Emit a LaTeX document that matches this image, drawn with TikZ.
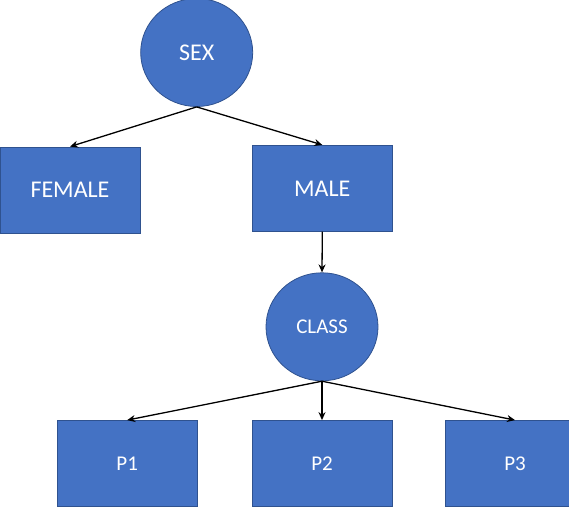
\documentclass[tikz,border=0pt]{standalone}
\usepackage{fontspec}
\setmainfont{Carlito}
\usetikzlibrary{shapes.geometric,arrows.meta}
\definecolor{boxfill}{HTML}{4472C4}
\definecolor{boxline}{HTML}{2F528F}

\begin{document}
\begin{tikzpicture}[x=1pt,y=-1pt,
  >={Stealth[length=8pt,width=7pt]},
  leaf/.style={draw=boxline, line width=0.8pt, fill=boxfill, text=white,
    minimum width=140pt, minimum height=86pt, inner sep=0pt},
  split/.style={ellipse, draw=boxline, line width=0.8pt, fill=boxfill, text=white,
    minimum width=112pt, minimum height=108pt, inner sep=0pt},
  big/.style={font=\fontsize{24}{28}\selectfont},
  small/.style={font=\fontsize{21}{25}\selectfont},
  link/.style={->, line width=1.3pt}]

\useasboundingbox (0,0) rectangle (569,507);
\clip (0,0) rectangle (569,507);

\node[split,big] (sex) at (196.7,52.5) {SEX};
\node[leaf,big] (female) at (70,190) {FEMALE};
\node[leaf,big] (male) at (322.3,188.3) {MALE};
\node[split,small] (class) at (322,326.8) {CLASS};
\node[leaf,small] (p1) at (127.2,463.5) {P1};
\node[leaf,small] (p2) at (322,463.5) {P2};
\node[leaf,small] (p3) at (515,463.5) {P3};

\draw[link] (sex.south) -- (female.north);
\draw[link] (sex.south) -- (male.north);
\draw[link] (male.south) -- (class.north);
\draw[link] (class.south) -- (p1.north);
\draw[link] (class.south) -- (p2.north);
\draw[link] (class.south) -- (p3.north);
\end{tikzpicture}
\end{document}
